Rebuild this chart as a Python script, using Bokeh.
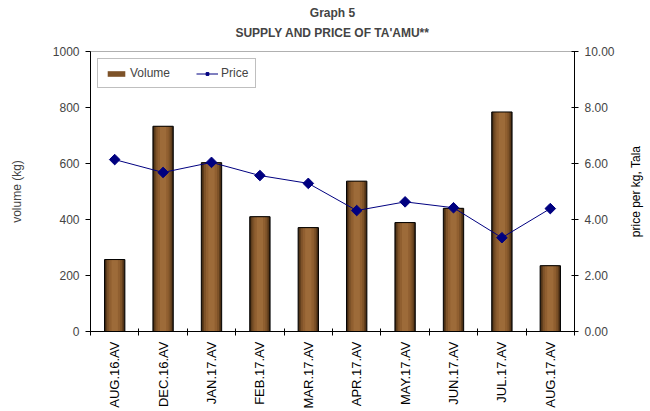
import math
from bokeh.plotting import figure
from bokeh.layouts import row
from bokeh.models import (Range1d, LinearAxis, FixedTicker, Legend, LegendItem,
                          Title, NumeralTickFormatter, ColumnDataSource)
from bokeh.core.properties import value
from bokeh.embed import file_html
from bokeh.resources import INLINE

months = ["AUG.16.AV", "DEC.16.AV", "JAN.17.AV", "FEB.17.AV", "MAR.17.AV",
          "APR.17.AV", "MAY.17.AV", "JUN.17.AV", "JUL.17.AV", "AUG.17.AV"]
volume = [257, 733, 603, 410, 371, 537, 389, 440, 784, 235]
price = [6.14, 5.68, 6.04, 5.57, 5.29, 4.32, 4.63, 4.42, 3.35, 4.39]

title_main = "Graph 5"
title_sub = "SUPPLY AND PRICE OF TA'AMU**"
vol_label = "volume (kg)"
price_label = "price per kg, Tala"

N = len(months)
x = [i + 0.5 for i in range(N)]
src = ColumnDataSource(dict(x=x, volume=volume, price=price))

FONT = "Liberation Sans"

p = figure(width=620, height=411, output_backend="svg", toolbar_location=None,
           x_range=Range1d(0, N), y_range=Range1d(0, 1000),
           min_border_left=90, min_border_right=46, min_border_top=51,
           min_border_bottom=80, title=None)
p.extra_y_ranges = {"price": Range1d(0, 10)}

# bars with simulated horizontal gradient
bw = 0.42
layers = [(bw, "#3a2410"), (0.37, "#5e3d1c"), (0.31, "#7d5228"), (0.23, "#905f30"), (0.13, "#9d6b39")]
bar_layers = []
for w, c in layers:
    r = p.vbar(x="x", top="volume", width=w, bottom=0, source=src,
               fill_color=c, line_color=None)
    bar_layers.append(r)
p.vbar(x="x", top="volume", width=bw, bottom=0, source=src,
       fill_color=None, line_color="black", line_width=1)

line_r = p.line(x="x", y="price", source=src, y_range_name="price",
                line_color="#000080", line_width=1)
pts_r = p.scatter(x="x", y="price", source=src, y_range_name="price",
                  marker="square", angle=math.pi / 4, size=7.5,
                  fill_color="#000080", line_color="#000080")

# axes
p.xgrid.visible = False
p.ygrid.visible = False
p.outline_line_color = "#b0b0b0"

xa = p.xaxis[0]
xa.ticker = FixedTicker(ticks=x, minor_ticks=list(range(N + 1)))
xa.major_label_overrides = {xi: m for xi, m in zip(x, months)}
xa.major_label_orientation = math.pi / 2
xa.major_tick_in = 0
xa.major_tick_out = 0
xa.minor_tick_in = 3
xa.minor_tick_out = 4
xa.minor_tick_line_color = "black"
xa.axis_line_color = "black"
xa.major_label_text_font = FONT
xa.major_label_text_font_size = "13px"
xa.major_label_text_color = "black"
xa.major_label_standoff = 6

ya = p.yaxis[0]
ya.ticker = FixedTicker(ticks=[0, 200, 400, 600, 800, 1000])
ya.minor_tick_line_color = None
ya.major_tick_in = 0
ya.major_tick_out = 5
ya.axis_label = vol_label
ya.axis_label_text_font = FONT
ya.axis_label_text_font_size = "12px"
ya.axis_label_text_font_style = "normal"
ya.axis_label_standoff = 26
ya.major_label_text_font = FONT
ya.major_label_text_font_size = "12px"
ya.major_label_standoff = 6

ra = LinearAxis(y_range_name="price", ticker=FixedTicker(ticks=[0, 2, 4, 6, 8, 10]),
                formatter=NumeralTickFormatter(format="0.00"))
ra.minor_tick_line_color = None
ra.major_tick_in = 3
ra.major_tick_out = 4
ra.major_label_text_font = FONT
ra.major_label_text_font_size = "12px"
ra.major_label_standoff = 6
p.add_layout(ra, "right")

# titles
p.add_layout(Title(text=title_sub, align="center",
                   text_font=FONT, text_font_size="12px", text_font_style="bold",
                   standoff=23), "above")
p.add_layout(Title(text=title_main, align="center",
                   text_font=FONT, text_font_size="12px", text_font_style="bold",
                   standoff=-15), "above")

legend = Legend(items=[LegendItem(label="Volume", renderers=[bar_layers[2]]),
                       LegendItem(label="Price", renderers=[line_r, pts_r])],
                location="top_left", orientation="horizontal",
                label_text_font=FONT, label_text_font_size="12px",
                glyph_width=22, glyph_height=7, label_height=12,
                label_standoff=3, spacing=26, padding=7, margin=7,
                border_line_color="#808080", border_line_width=1,
                background_fill_color="white")
p.add_layout(legend, "center")

# right-hand axis title, reading bottom to top, in a narrow strip
p2 = figure(width=30, height=411, output_backend="svg", toolbar_location=None,
            x_range=Range1d(-1, 1), y_range=Range1d(-1, 1),
            x_axis_type=None, y_axis_type=None, title=None,
            min_border_left=0, min_border_right=0, min_border_top=51,
            min_border_bottom=80)
p2.xgrid.visible = False
p2.ygrid.visible = False
p2.outline_line_color = None
p2.text(x=[0], y=[0], text=[price_label], angle=math.pi / 2,
        text_align="center", text_baseline="middle",
        text_font=value(FONT), text_font_size="12px", text_color="black")

layout = row(p, p2, spacing=0)
open("out.html", "w").write(file_html(layout, INLINE))
